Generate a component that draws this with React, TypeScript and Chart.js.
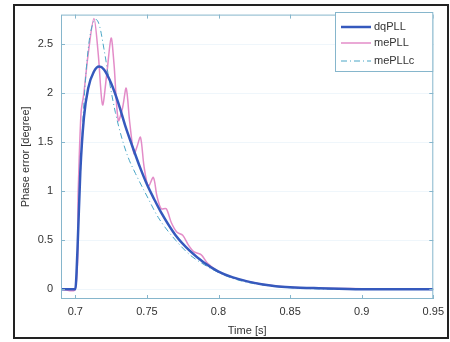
import React, { useEffect, useRef } from "react";
import { Chart, registerables } from "chart.js";

Chart.register(...registerables);

const xTicks = [0.7, 0.75, 0.8, 0.85, 0.9, 0.95];
const yTicks = [0, 0.5, 1, 1.5, 2, 2.5];

const tDq = [0.69, 0.7, 0.7015, 0.7035, 0.706, 0.709, 0.713, 0.7166, 0.72, 0.725, 0.73, 0.735, 0.74, 0.745, 0.75, 0.755, 0.76, 0.77, 0.78, 0.79, 0.8, 0.81, 0.82, 0.83, 0.84, 0.85, 0.87, 0.9, 0.95];
const vDq = [0, 0, 0.4, 1.2, 1.75, 2.05, 2.22, 2.27, 2.24, 2.1, 1.9, 1.66, 1.45, 1.25, 1.07, 0.92, 0.78, 0.55, 0.39, 0.27, 0.18, 0.12, 0.08, 0.05, 0.03, 0.02, 0.01, 0, 0];

const tMe = [0.69, 0.7, 0.702, 0.704, 0.706, 0.709, 0.713, 0.716, 0.719, 0.722, 0.725, 0.727, 0.73, 0.733, 0.7355, 0.738, 0.741, 0.743, 0.7455, 0.748, 0.751, 0.7545, 0.757, 0.76, 0.7635, 0.767, 0.771, 0.775, 0.779, 0.783, 0.788, 0.792, 0.8, 0.81, 0.82, 0.83, 0.85, 0.9, 0.95];
const vMe = [0, 0, 1.0, 1.8, 2.0, 2.4, 2.76, 2.4, 1.88, 2.2, 2.56, 2.3, 1.72, 1.85, 2.05, 1.7, 1.38, 1.45, 1.55, 1.25, 1.05, 1.14, 0.95, 0.82, 0.82, 0.68, 0.58, 0.55, 0.45, 0.38, 0.35, 0.27, 0.18, 0.12, 0.08, 0.05, 0.02, 0.005, 0];

const tMc = [0.69, 0.7, 0.703, 0.706, 0.709, 0.712, 0.7145, 0.717, 0.72, 0.724, 0.728, 0.7325, 0.737, 0.742, 0.75, 0.758, 0.77, 0.78, 0.79, 0.8, 0.81, 0.82, 0.83, 0.85, 0.9, 0.95];
const vMc = [0, 0, 1.0, 1.9, 2.45, 2.7, 2.75, 2.68, 2.45, 2.1, 1.8, 1.54, 1.34, 1.18, 0.95, 0.73, 0.5, 0.35, 0.25, 0.17, 0.11, 0.07, 0.045, 0.015, 0, 0];

const seriesNames = ["dqPLL", "mePLL", "mePLLc"];
const colDq = "#3559bd";
const colMe = "rgba(222,120,190,0.85)";
const colMc = "#4aa6c6";
const axisCol = "#86b6cc";

const pts = (t: number[], v: number[]) => t.map((x, i) => ({ x, y: v[i] }));

export default function App() {
  const ref = useRef<HTMLCanvasElement>(null);
  useEffect(() => {
    if (!ref.current) return;
    const frame = {
      id: "frame",
      beforeDraw(chart: any) {
        const c = chart.ctx;
        c.save();
        c.fillStyle = "#fff";
        c.fillRect(0, 0, chart.width, chart.height);
        c.restore();
      },
      afterDraw(chart: any) {
        const c = chart.ctx;
        const a = chart.chartArea;
        const xs = chart.scales.x;
        const ys = chart.scales.y;
        c.save();
        c.strokeStyle = axisCol;
        c.lineWidth = 1;
        c.strokeRect(a.left + 0.5, a.top + 0.5, a.right - a.left - 1, a.bottom - a.top - 1);
        c.beginPath();
        xTicks.forEach((t) => {
          const px = Math.round(xs.getPixelForValue(t)) + 0.5;
          c.moveTo(px, a.bottom); c.lineTo(px, a.bottom - 4);
          c.moveTo(px, a.top); c.lineTo(px, a.top + 4);
        });
        yTicks.forEach((t) => {
          const py = Math.round(ys.getPixelForValue(t)) + 0.5;
          c.moveTo(a.left, py); c.lineTo(a.left + 4, py);
          c.moveTo(a.right, py); c.lineTo(a.right - 4, py);
        });
        c.stroke();
        const lx = 335, ly = 12, lw = a.right - 335, lh = 60;
        c.fillStyle = "#fff";
        c.fillRect(lx, ly, lw, lh);
        c.strokeRect(lx + 0.5, ly + 0.5, lw - 1, lh - 1);
        const rows = [27, 43, 61];
        const styles = [
          { col: colDq, w: 2.5, dash: [] as number[] },
          { col: colMe, w: 1.5, dash: [] as number[] },
          { col: colMc, w: 1, dash: [6, 3, 1, 3] },
        ];
        c.font = "11px 'Liberation Sans', Arial, sans-serif";
        c.textBaseline = "middle";
        rows.forEach((ry, i) => {
          c.beginPath();
          c.strokeStyle = styles[i].col;
          c.lineWidth = styles[i].w;
          c.setLineDash(styles[i].dash);
          c.moveTo(341, ry); c.lineTo(371, ry);
          c.stroke();
          c.setLineDash([]);
          c.fillStyle = "#333";
          c.fillText(seriesNames[i], 374, ry);
        });
        c.strokeStyle = "#222";
        c.lineWidth = 2;
        c.strokeRect(14, 5, 434, 333);
        c.restore();
      },
    };
    const chart = new Chart(ref.current, {
      type: "line",
      data: {
        datasets: [
          { label: seriesNames[0], data: pts(tDq, vDq), borderColor: colDq, borderWidth: 2.5, pointRadius: 0, cubicInterpolationMode: "monotone", order: 0 },
          { label: seriesNames[1], data: pts(tMe, vMe), borderColor: colMe, borderWidth: 1.5, pointRadius: 0, tension: 0.3, order: 2 },
          { label: seriesNames[2], data: pts(tMc, vMc), borderColor: colMc, borderWidth: 1, borderDash: [6, 3, 1, 3], pointRadius: 0, cubicInterpolationMode: "monotone", order: 1 },
        ],
      },
      options: {
        animation: false,
        responsive: false,
        layout: { padding: { left: 14, top: 12, right: 12, bottom: 4 } },
        plugins: { legend: { display: false }, tooltip: { enabled: false } },
        scales: {
          x: {
            type: "linear",
            min: 0.69,
            max: 0.95,
            afterBuildTicks: (s: any) => { s.ticks = xTicks.map((v) => ({ value: v })); },
            afterFit: (s: any) => { s.height = 39; },
            ticks: { color: "#333", font: { size: 11, family: "'Liberation Sans', Arial, sans-serif" }, padding: 6, maxRotation: 0, autoSkip: false, callback: (v: any) => String(v) },
            grid: { display: false, drawTicks: false },
            border: { display: false },
            title: { display: true, text: "Time [s]", color: "#333", font: { size: 11, family: "'Liberation Sans', Arial, sans-serif" }, padding: { top: 2, bottom: 0 } },
          },
          y: {
            type: "linear",
            min: -0.1,
            max: 2.8,
            afterBuildTicks: (s: any) => { s.ticks = yTicks.map((v) => ({ value: v })); },
            afterFit: (s: any) => { s.width = 47; },
            ticks: { color: "#333", font: { size: 11, family: "'Liberation Sans', Arial, sans-serif" }, padding: 8, callback: (v: any) => String(v) },
            grid: { drawTicks: false, color: "rgba(220,236,246,0.45)" },
            border: { display: false },
            title: { display: true, text: "Phase error [degree]", color: "#333", font: { size: 11, family: "'Liberation Sans', Arial, sans-serif" }, padding: { top: 5, bottom: 0 } },
          },
        },
      },
      plugins: [frame],
    } as any);
    return () => chart.destroy();
  }, []);
  return (
    <div style={{ position: "absolute", left: 0, top: 0, width: 450, height: 342 }}>
      <canvas ref={ref} width={450} height={342} style={{ display: "block" }} />
    </div>
  );
}
